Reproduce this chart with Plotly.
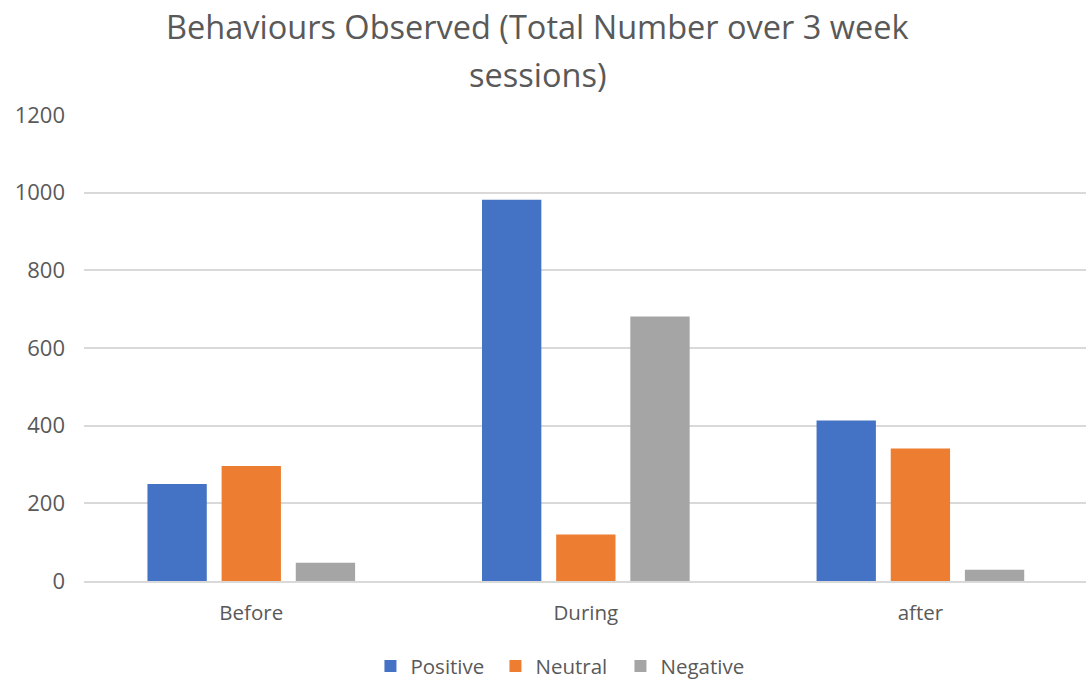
import plotly.graph_objects as go

categories = ["Before", "During", "after"]
positive = [250, 982, 413]
neutral = [296, 120, 341]
negative = [47, 681, 29]
series_names = ["Positive", "Neutral", "Negative"]
colors = ["#4472C4", "#ED7D31", "#A5A5A5"]
y_ticks = [0, 200, 400, 600, 800, 1000, 1200]
title_lines = ["Behaviours Observed (Total Number over 3 week", "sessions)"]

fig = go.Figure()
for name, vals, col in zip(series_names, [positive, neutral, negative], colors):
    fig.add_trace(go.Bar(x=categories, y=vals, name=name, marker=dict(color=col, line=dict(width=0))))

font_fam = "'Open Sans', sans-serif"
text_col = "#595959"
fig.update_layout(
    width=1086, height=680,
    paper_bgcolor="white", plot_bgcolor="white",
    margin=dict(l=84, r=0, t=115, b=99, autoexpand=False),
    barmode="group", bargap=0.335, bargroupgap=0.2,
    font=dict(family=font_fam, color=text_col),
    xaxis=dict(showgrid=False, showline=True, linecolor="#d9d9d9", linewidth=1.5,
               range=[-0.5, 2.495],
               tickfont=dict(size=20.5, color=text_col), ticks="", ticklabelstandoff=13),
    yaxis=dict(range=[0, 1200], tickvals=y_ticks, showgrid=True, gridcolor="#d9d9d9", gridwidth=1.5,
               zeroline=False, showline=False, ticks="",
               tickfont=dict(size=22, color=text_col), ticklabelstandoff=18),
    legend=dict(orientation="h", x=0.473, xanchor="center", y=-0.14, yanchor="top",
                font=dict(size=20.5, color=text_col), itemwidth=30, traceorder="normal",
                entrywidth=80, entrywidthmode="pixels"),
)
for line, ypos in zip(title_lines, [1.189, 1.086]):
    fig.add_annotation(text=line, xref="paper", yref="paper", x=(537 - 84) / 1002, y=ypos,
                       xanchor="center", yanchor="middle", showarrow=False,
                       font=dict(family=font_fam, size=32.5, color=text_col))
fig.write_html("out.html")
